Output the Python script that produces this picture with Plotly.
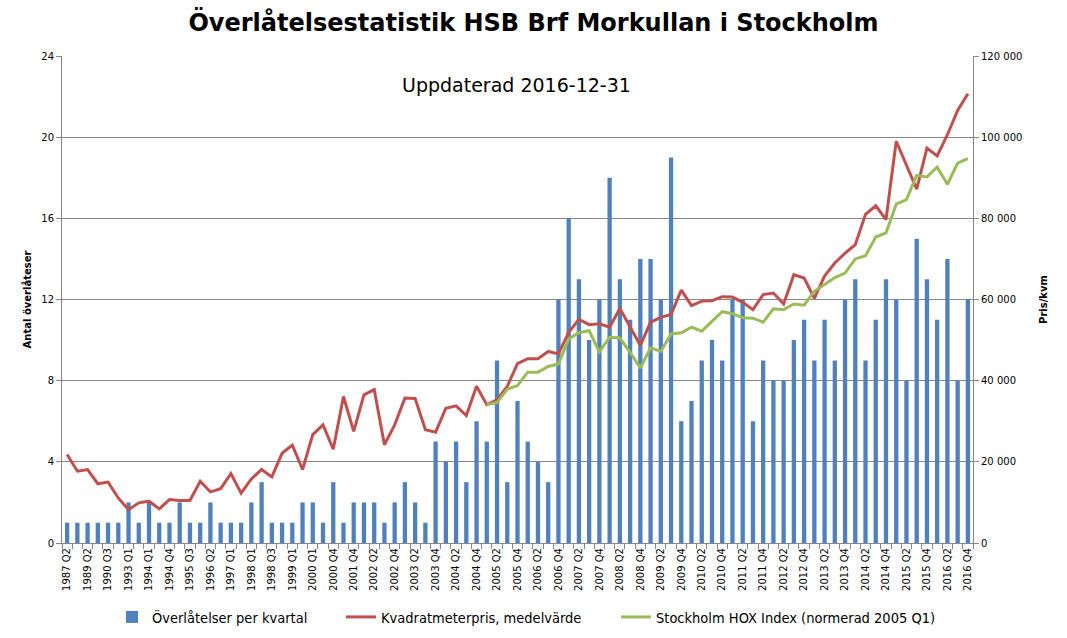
import plotly.graph_objects as go

categories = [
    "1987 Q2", "1988 Q2", "1989 Q2", "1989 Q4", "1990 Q3", "1991 Q3", "1993 Q1", "1993 Q3",
    "1994 Q1", "1994 Q2", "1994 Q4", "1995 Q1", "1995 Q3", "1995 Q4", "1996 Q2", "1996 Q4",
    "1997 Q1", "1997 Q3", "1998 Q1", "1998 Q2", "1998 Q3", "1998 Q4", "1999 Q1", "1999 Q3",
    "2000 Q1", "2000 Q2", "2000 Q4", "2001 Q2", "2001 Q4", "2002 Q1", "2002 Q2", "2002 Q3",
    "2002 Q4",
    "2003 Q1", "2003 Q2", "2003 Q3", "2003 Q4",
    "2004 Q1", "2004 Q2", "2004 Q3", "2004 Q4",
    "2005 Q1", "2005 Q2", "2005 Q3", "2005 Q4",
    "2006 Q1", "2006 Q2", "2006 Q3", "2006 Q4",
    "2007 Q1", "2007 Q2", "2007 Q3", "2007 Q4",
    "2008 Q1", "2008 Q2", "2008 Q3", "2008 Q4",
    "2009 Q1", "2009 Q2", "2009 Q3", "2009 Q4",
    "2010 Q1", "2010 Q2", "2010 Q3", "2010 Q4",
    "2011 Q1", "2011 Q2", "2011 Q3", "2011 Q4",
    "2012 Q1", "2012 Q2", "2012 Q3", "2012 Q4",
    "2013 Q1", "2013 Q2", "2013 Q3", "2013 Q4",
    "2014 Q1", "2014 Q2", "2014 Q3", "2014 Q4",
    "2015 Q1", "2015 Q2", "2015 Q3", "2015 Q4",
    "2016 Q1", "2016 Q2", "2016 Q3", "2016 Q4",
]

transfers = [
    1, 1, 1, 1, 1, 1, 2, 1, 2, 1, 1, 2, 1, 1, 2, 1, 1, 1, 2, 3, 1, 1, 1, 2,
    2, 1, 3, 1, 2, 2, 2, 1, 2, 3, 2, 1, 5, 4, 5, 3, 6, 5, 9, 3, 7, 5,
    4, 3, 12, 16, 13, 10, 12, 18, 13, 11, 14, 14, 12, 19, 6, 7, 9, 10, 9, 12, 12,
    6, 9, 8, 8, 10, 11, 9, 11, 9, 12, 13, 9, 11, 13, 12, 8, 15, 13, 11, 14, 8, 12,
]

price_sqm = [
    21800, 17700, 18100, 14600, 15000, 11100, 8200, 9900, 10300, 8400, 10700, 10500,
    10500, 15200, 12600, 13400, 17100, 12300, 15800, 18100, 16300, 22100, 24100, 18100,
    26700, 29100, 23100, 36100, 27500, 36500, 37800, 24200, 29100, 35700, 35600, 27900,
    27300, 33200, 33800, 31400, 38600, 34100, 35300, 38600, 44200, 45400,
    45400, 47200, 46600, 51900, 55100, 53800, 54000, 53200, 57800, 53400, 48700,
    54400, 55600, 56300, 62300, 58500, 59600, 59700, 60700, 60600, 59300,
    57500, 61200, 61600, 58900, 66100, 65300, 60300, 65800, 69000, 71400, 73500,
    81000, 83100, 79700, 99000, 93200, 87200, 97300, 95400, 100600, 106600, 110700,
]

hox_index = [None] * 41 + [
    34100, 34600, 37900, 38800, 42100,
    42100, 43500, 44100, 50300, 51800, 52300, 47100, 50700, 50500, 47000, 43100,
    48100, 47200, 51500, 51800, 53200, 52200, 54600, 57000, 56500, 55500,
    55400, 54400, 57700, 57500, 58900, 58600, 62000, 63600, 65400, 66500, 70000,
    70800, 75400, 76400, 83500, 84600, 90600, 90200, 92600, 88400, 93600, 94700,
]

left_ticks = [0, 4, 8, 12, 16, 20, 24]
right_ticks = [0, 20000, 40000, 60000, 80000, 100000, 120000]

x_pos = list(range(len(categories)))

BLUE = "#4F81BD"
RED = "#C0504D"
GREEN = "#9BBB59"
GRID = "#878787"
FONT = "DejaVu Sans"
LEGEND_FONT = dict(family="DejaVu Sans Condensed, DejaVu Sans", size=14.5, color="black")

fig = go.Figure()
fig.add_trace(go.Bar(
    x=x_pos, y=transfers, name="Överlåtelser per kvartal",
    marker=dict(color=BLUE, line=dict(width=0)), width=0.42, legend="legend",
    customdata=categories, hovertemplate="%{customdata}: %{y}<extra></extra>",
))
fig.add_trace(go.Scatter(
    x=x_pos, y=price_sqm, name="Kvadratmeterpris, medelvärde", yaxis="y2",
    mode="lines", line=dict(color=RED, width=3), legend="legend2",
    customdata=categories, hovertemplate="%{customdata}: %{y}<extra></extra>",
))
fig.add_trace(go.Scatter(
    x=x_pos, y=hox_index, name="Stockholm HOX Index (normerad 2005 Q1)", yaxis="y2",
    mode="lines", line=dict(color=GREEN, width=3), connectgaps=False, legend="legend3",
    customdata=categories, hovertemplate="%{customdata}: %{y}<extra></extra>",
))


def legend_at(text_x):
    return dict(
        orientation="h",
        xref="container", x=(text_x - 40) / 1067, xanchor="left",
        yref="container", y=1 - 617 / 638, yanchor="middle",
        font=LEGEND_FONT, bgcolor="rgba(0,0,0,0)",
    )


fig.update_layout(
    template="none",
    width=1067, height=638,
    paper_bgcolor="white", plot_bgcolor="white",
    separators=", ",
    margin=dict(l=62, r=94, t=56, b=95, autoexpand=False),
    font=dict(family=FONT, size=10, color="black"),
    title=dict(
        text="Överlåtelsestatistik HSB Brf Morkullan i Stockholm",
        x=0.5, xref="container", xanchor="center",
        y=1 - 23 / 638, yref="container", yanchor="middle",
        font=dict(family=FONT, size=24, color="black", weight="bold"),
    ),
    xaxis=dict(
        range=[-0.5, len(categories) - 0.5],
        tickmode="array", tickvals=x_pos[::2], ticktext=categories[::2],
        tickangle=-90, ticks="", showgrid=False,
        showline=True, linecolor=GRID, linewidth=1,
        tickfont=dict(family=FONT, size=10, color="black"),
        automargin=False, zeroline=False,
        minor=dict(tick0=-0.5, dtick=1, ticks="outside", ticklen=5,
                   tickcolor=GRID, showgrid=False),
    ),
    yaxis=dict(
        range=[0, 24], tickmode="array", tickvals=left_ticks,
        showgrid=True, gridcolor=GRID, gridwidth=1,
        showline=True, linecolor=GRID, linewidth=1,
        ticks="outside", ticklen=5, tickcolor=GRID,
        tickfont=dict(family=FONT, size=10, color="black"),
        zeroline=False, automargin=False,
        title=dict(text="Antal överlåteser", standoff=7,
                   font=dict(family=FONT, size=10, color="black", weight="bold")),
    ),
    yaxis2=dict(
        range=[0, 120000], tickmode="array", tickvals=right_ticks,
        tickformat=",d", overlaying="y", side="right",
        showgrid=False, showline=True, linecolor=GRID, linewidth=1,
        ticks="outside", ticklen=5, tickcolor=GRID,
        tickfont=dict(family=FONT, size=10, color="black"),
        zeroline=False, automargin=False,
        title=dict(text="Pris/kvm", standoff=18,
                   font=dict(family=FONT, size=10, color="black", weight="bold")),
    ),
    barmode="overlay",
    showlegend=True,
    legend=legend_at(152),
    legend2=legend_at(381),
    legend3=legend_at(656),
    annotations=[dict(
        text="Uppdaterad 2016-12-31", xref="paper", yref="paper",
        x=(516 - 62) / 911, y=(543 - 85) / 487, xanchor="center", yanchor="middle",
        showarrow=False, font=dict(family=FONT, size=19, color="black"),
    )],
)

fig.write_html(
    "out.html",
    config={"displayModeBar": False},
    post_script="document.body.style.margin='0';",
)
